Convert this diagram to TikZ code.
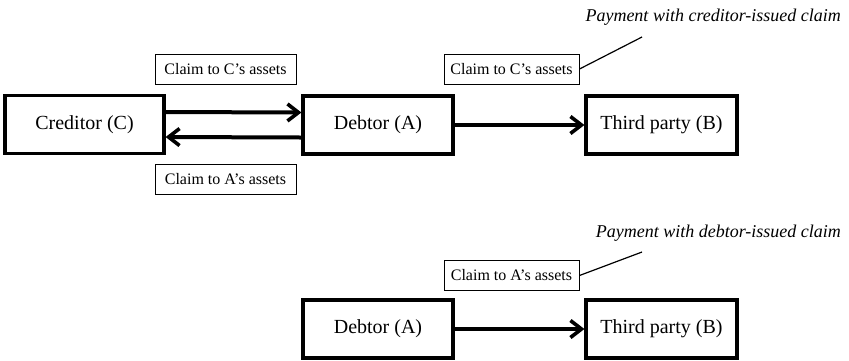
\documentclass[tikz,border=0pt]{standalone}
\usepackage{fontspec}
\setmainfont{Liberation Serif}
\usetikzlibrary{arrows.meta,positioning}

\begin{document}
\begin{tikzpicture}[x=0.5pt, y=-0.5pt,
        party/.style = {draw, line width=1.6pt, minimum height=29pt, inner sep=0pt, font=\normalsize},
        claim/.style = {draw, line width=0.5pt, minimum height=15pt, inner sep=0pt, font=\footnotesize},
        flow/.style = {line width=2pt, -{Straight Barb[length=5.5pt, width=8.5pt, line width=1.8pt]}},
        note/.style = {font=\small\itshape}]

        \useasboundingbox (0,0) rectangle (849,360);

        % upper part
        \node[party, minimum width=79.5pt] (cred) at (84.5,124.5) {Creditor (C)};
        \node[party, minimum width=75pt] (debt) at (378,125) {Debtor (A)};
        \node[party, minimum width=75.5pt] (third) at (661.5,125) {Third party (B)};

        \draw[flow] ([yshift=6.25pt]cred.east) -- ([yshift=6.25pt]debt.west);
        \draw[flow] ([yshift=-6.25pt]debt.west) -- ([yshift=-6.25pt]cred.east);
        \draw[flow] (debt) -- (third);

        \node[claim, minimum width=70.5pt] (claimC) at (225.5,69) {Claim to C's assets};
        \node[claim, minimum width=70.5pt] (claimA) at (225.5,179.5) {Claim to A's assets};
        \node[claim, minimum width=67.5pt] (payC) at (511.5,69) {Claim to C's assets};

        \node[note, anchor=base east] (noteC) at (848,21) {Payment with creditor-issued claim};
        \coordinate (tipC) at (642,37);
        \draw[line width=0.6pt] (payC.east) -- (tipC);

        % lower part
        \node[party, minimum width=75pt] (debt2) at (378,329) {Debtor (A)};
        \node[party, minimum width=75.5pt] (third2) at (661.5,329) {Third party (B)};
        \draw[flow] (debt2) -- (third2);

        \node[claim, minimum width=67.5pt] (payA) at (511.5,275.5) {Claim to A's assets};

        \node[note, anchor=base east] (noteA) at (848,237) {Payment with debtor-issued claim};
        \coordinate (tipA) at (642,252);
        \draw[line width=0.6pt] (payA.east) -- (tipA);
    \end{tikzpicture}
\end{document}
